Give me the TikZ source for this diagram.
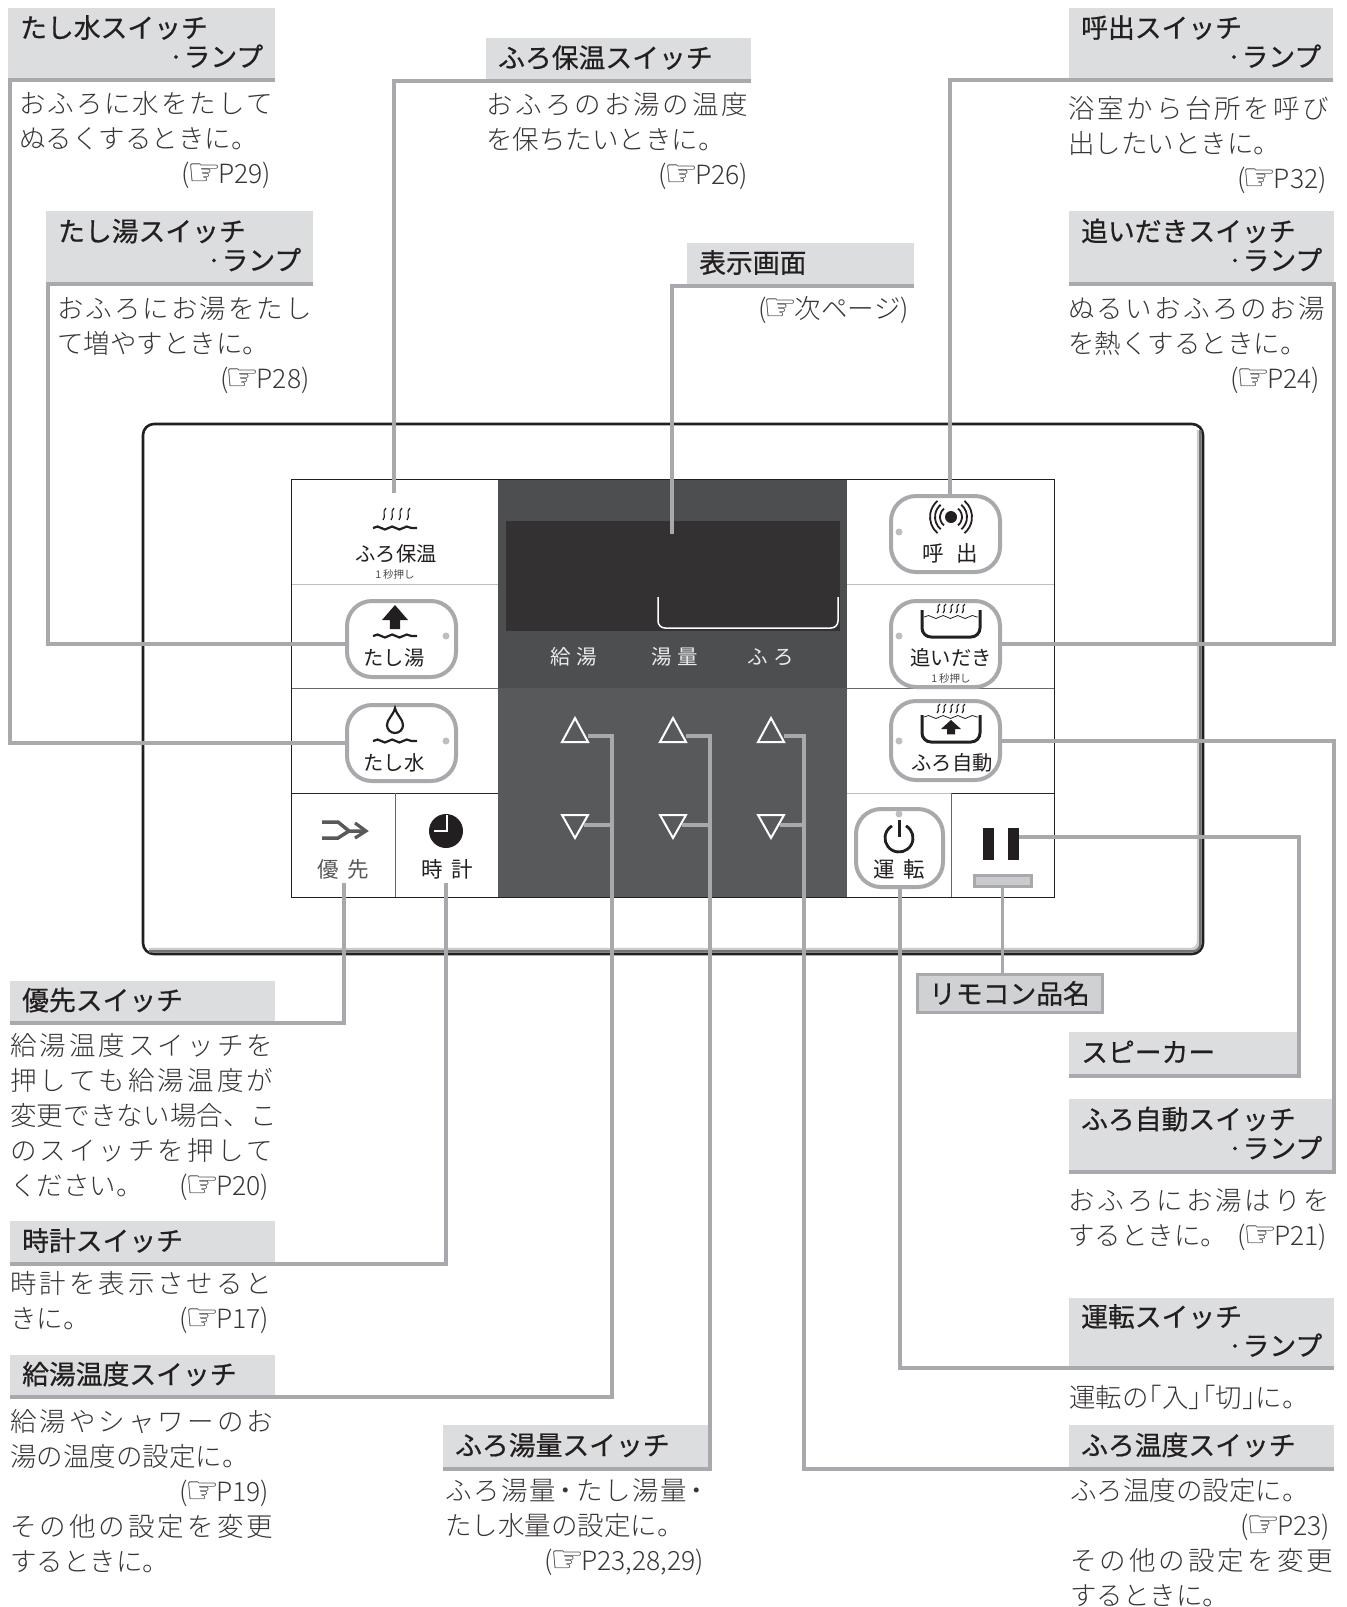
\documentclass[tikz,border=0pt]{standalone}
\usepackage{fontspec}
\setmainfont{Noto Sans CJK JP}
\newfontfamily\jpbody{Noto Sans CJK JP Light}
\newfontfamily\jphead[FakeBold=0.6]{Noto Sans CJK JP}
\newfontfamily\symfont{DejaVu Sans}
\usetikzlibrary{calc,positioning,decorations.pathmorphing}

\XeTeXlinebreaklocale "ja"
\XeTeXlinebreakskip=0pt plus 20pt\relax
\tolerance=9999
\hbadness=10000
\hfuzz=5pt

\definecolor{headgray}{HTML}{DCDDDE}
\definecolor{leadgray}{HTML}{A7A9AC}
\definecolor{darkup}{HTML}{4D4E50}
\definecolor{darklow}{HTML}{58595B}
\definecolor{screen}{HTML}{333132}
\definecolor{ink}{HTML}{231F20}
\definecolor{lampdot}{HTML}{BCBEC0}

\def\finger{\kern-3pt\smash{\raisebox{-2.5pt}{\symfont\fontsize{38pt}{38pt}\selectfont ☞}}\kern-3pt}
\def\fit#1{{\parfillskip=0pt #1\par}}
\def\rt#1{{\parfillskip=0pt\hfill #1\par}}
\def\hd#1{\raisebox{-8pt}[0pt][0pt]{#1}}
\def\wavy[#1](#2,#3)(#4){\draw[#1,decorate,decoration={snake,amplitude=1.5pt,segment length=14.6pt}] (#2,#3) -- ++(#4,0);}
\def\squiggle(#1,#2,#3){\draw[ink,line width=1.2pt] (#1+2,#2) .. controls (#1-2.5,#2+#3*0.3) and (#1+2.5,#2+#3*0.7) .. (#1-1,#2+#3);}
\def\tub(#1,#2,#3){\draw[ink,line width=3pt,rounded corners=9pt] (#1-29,#2) -- (#1-29,#3) -- (#1+29,#3) -- (#1+29,#2);}
\def\bigarrow(#1,#2,#3,#4){\fill[ink] (#1,#2) -- (#1+#3,#2+#4) -- (#1+#3*0.4,#2+#4) -- (#1+#3*0.4,#2+#4*1.6) -- (#1-#3*0.4,#2+#4*1.6) -- (#1-#3*0.4,#2+#4) -- (#1-#3,#2+#4) -- cycle;}

\tikzset{
	headone/.style={fill=headgray,anchor=north west,inner xsep=12pt,inner ysep=0pt,font=\jphead\fontsize{26.8pt}{29pt}\selectfont,text=ink},
	headtwo/.style={headone,minimum height=#1},
	bodytext/.style={anchor=base west,inner sep=0pt,font=\jpbody\fontsize{26.5pt}{35pt}\selectfont,text=ink!90,text width=#1},
	leader/.style={draw=leadgray,line width=4pt},
	btn/.style={rectangle,draw=leadgray,fill=white,line width=4pt,rounded corners=25pt,inner sep=0pt},
	keylabel/.style={inner sep=0pt,font=\fontsize{20.3pt}{21pt}\selectfont,text=ink},
	spacedlabel/.style={inner sep=0pt,font=\fontsize{21.5pt}{22pt}\selectfont,text=ink},
	smalllabel/.style={inner sep=0pt,font=\fontsize{10.5pt}{11pt}\selectfont,text=ink!80},
	darklabel/.style={inner sep=0pt,font=\fontsize{20.5pt}{21pt}\selectfont,text=white!92!black},
	lamp/.style={circle,fill=lampdot,minimum size=7pt,inner sep=0pt},
	grid/.style={line width=1pt},
}

\begin{document}
\begin{tikzpicture}[x=1pt,y=-1pt]
	\useasboundingbox (0,0) rectangle (1347,1607);
	\fill[white] (0,0) rectangle (1347,1607);

	% panel
	\draw[ink,line width=2.6pt,rounded corners=11pt,fill=white] (143,424) rectangle (1203,954);
	\draw[black!20,line width=2.5pt,rounded corners=7pt] (1198,430) -- (1198,949) -- (149,949);
	\draw[black!55,line width=2.5pt,rounded corners=8pt] (1200.4,430) -- (1200.4,951.4) -- (149,951.4);

	\fill[darkup] (498,479) rectangle (847,688);
	\fill[darklow] (498,688) rectangle (847,897);
	\fill[screen] (506,521) rectangle (840,631);
	\draw[white,line width=1.5pt,rounded corners=7pt] (658,597) -- (658,628) -- (838,628) -- (838,597);

	\draw[lampdot,grid] (291,584) -- (498,584) (847,584) -- (1054,584);
	\draw[black!60,grid] (291,688) -- (498,688) (847,688) -- (1054,688);
	\draw[black!85,grid] (291,793) -- (498,793);
	\draw[lampdot,grid] (847,793) -- (951,793);
	\draw[black!85,grid] (951,793) -- (1054,793);
	\draw[black!60,grid] (395,793) -- (395,897) (951,793) -- (951,897);
	\draw[ink,grid] (291,479) rectangle (1054,897);

	% headings
	\node[headtwo=72pt,minimum width=267pt,text width=243pt] (tashimizuhead) at (8,8) {\hd{たし水スイッチ}\par\rt{\hd{·ランプ}}};
	\node[headtwo=73pt,minimum width=267pt,text width=243pt] (tashiyuhead) at (46,211) {\hd{たし湯スイッチ}\par\rt{\hd{·ランプ}}};
	\node[headtwo=43pt,minimum width=265pt,text width=241pt] (hozonhead) at (486,38) {\hd{ふろ保温スイッチ}};
	\node[headtwo=43pt,minimum width=227pt,text width=203pt] (hyojihead) at (687,243) {\hd{表示画面}};
	\node[headtwo=72pt,minimum width=264pt,text width=240pt] (yobihead) at (1069,8) {\hd{呼出スイッチ}\par\rt{\hd{·ランプ}}};
	\node[headtwo=73pt,minimum width=265pt,text width=241pt] (oidakihead) at (1069,211) {\hd{追いだきスイッチ}\par\rt{\hd{·ランプ}}};
	\node[headtwo=42pt,minimum width=265pt,text width=241pt] (yusenhead) at (10,981) {\hd{優先スイッチ}};
	\node[headtwo=43pt,minimum width=265pt,text width=241pt] (tokeihead) at (10,1221) {\hd{時計スイッチ}};
	\node[headtwo=42pt,minimum width=265pt,text width=241pt] (kyutohead) at (10,1355) {\hd{給湯温度スイッチ}};
	\node[headtwo=44pt,minimum width=267pt,text width=243pt] (yuryohead) at (443,1425) {\hd{ふろ湯量スイッチ}};
	\node[headtwo=44pt,minimum width=265pt,text width=241pt] (ondohead) at (1069,1425) {\hd{ふろ温度スイッチ}};
	\node[headtwo=44pt,minimum width=230pt,text width=206pt] (speakerhead) at (1069,1032) {\hd{スピーカー}};
	\node[headtwo=73pt,minimum width=265pt,text width=241pt] (autohead) at (1069,1099) {\hd{ふろ自動スイッチ}\par\rt{\hd{·ランプ}}};
	\node[headtwo=70pt,minimum width=265pt,text width=241pt] (untenhead) at (1069,1298) {\hd{運転スイッチ}\par\rt{\hd{·ランプ}}};
	\node[draw=leadgray,fill=lampdot!70,line width=3pt,minimum width=185pt,minimum height=38pt,inner sep=0pt,font=\jphead\fontsize{26.8pt}{29pt}\selectfont,text=ink] (rimokon) at (1009.5,993.5) {リモコン品名};

	% body texts
	\node[bodytext=259pt] (tashimizubody) at (19,113) {\fit{おふろに水をたして}ぬるくするときに。\par\rt{(\finger P29)\hspace*{7pt}}};
	\node[bodytext=260pt] (tashiyubody) at (57,318) {\fit{おふろにお湯をたし}て増やすときに。\par\rt{(\finger P28)\hspace*{7.5pt}}};
	\node[bodytext=270pt] (hozonbody) at (486,114) {\fit{おふろのお湯の温度}を保ちたいときに。\par\rt{(\finger P26)\hspace*{8pt}}};
	\node[bodytext=213pt] (hyojibody) at (700,318) {\rt{(\finger 次ページ)\hspace*{4pt}}};
	\node[bodytext=268pt] (yobibody) at (1068,118) {\fit{浴室から台所を呼び}出したいときに。\par\rt{(\finger P32)\hspace*{9.5pt}}};
	\node[bodytext=263pt] (oidakibody) at (1068,318) {\fit{ぬるいおふろのお湯}を熱くするときに。\par\rt{(\finger P24)\hspace*{11pt}}};
	\node[bodytext=271pt] (yusenbody) at (10,1055) {\fit{給湯温度スイッチを}\fit{押しても給湯温度が}\fit{変更できない場合、こ\hspace*{4pt}}\fit{のスイッチを押して}\fit{ください。\hfill (\finger P20)\hspace*{12pt}}};
	\node[bodytext=270pt] (tokeibody) at (10,1293) {\fit{時計を表示させると}\fit{きに。\hfill (\finger P17)\hspace*{11pt}}};
	\node[bodytext=271pt] (kyutobody) at (10,1431) {\fit{給湯やシャワーのお}湯の温度の設定に。\par\rt{(\finger P19)\hspace*{12pt}}\fit{その他の設定を変更}するときに。\par};
	\node[bodytext=269pt] (yuryobody) at (445,1500) {\fit{ふろ湯量\kern-3pt・\kern-3pt たし湯量\kern-3pt・}たし水量の設定に。\par\rt{(\finger P23,28,29)\hspace*{10pt}}};
	\node[bodytext=270pt] (autobody) at (1068,1210) {\fit{おふろにお湯はりを}\fit{するときに。\hfill(\finger P21)\hspace*{11pt}}};
	\node[bodytext=264pt] (untenbody) at (1069,1407) {運転の\kern-13pt「入」\kern-26pt「切」\kern-13pt に。};
	\node[bodytext=271pt] (ondobody) at (1070,1500) {ふろ温度の設定に。\par\rt{(\finger P23)\hspace*{11pt}}\fit{その他の設定を変更}するときに。\par};

	% keys
	\node[btn,minimum width=109pt,minimum height=76pt] (tashiyubtn) at (401.5,639) {};
	\node[btn,minimum width=109pt,minimum height=76pt] (tashimizubtn) at (401.5,743) {};
	\node[btn,minimum width=109pt,minimum height=76pt] (yobibtn) at (945.5,534) {};
	\node[btn,minimum width=109pt,minimum height=86pt] (oidakibtn) at (945.5,644) {};
	\node[btn,minimum width=109pt,minimum height=79pt] (autobtn) at (945.5,740.5) {};
	\node[btn,minimum width=87pt,minimum height=78pt] (untenbtn) at (899.5,848) {};

	\node[lamp] (tashiyulamp) at (446,636) {};
	\node[lamp] (tashimizulamp) at (446,741) {};
	\node[lamp] (yobilamp) at (899,532) {};
	\node[lamp] (oidakilamp) at (899,636) {};
	\node[lamp] (autolamp) at (899,741) {};
	\node[lamp] (untenlamp) at (899,814) {};

	\node[keylabel] (hozonlabel) at (396,554) {ふろ保温};
	\node[smalllabel] (hozonsmall) at (395,574) {1\hspace{2pt}秒押し};
	\node[keylabel] (tashiyulabel) at (394,658) {たし湯};
	\node[keylabel] (tashimizulabel) at (394,763) {たし水};
	\node[spacedlabel,text=darklow] (yusenlabel) at (343,869) {優\hspace{8pt}先};
	\node[spacedlabel] (tokeilabel) at (447,869) {時\hspace{8pt}計};
	\node[spacedlabel] (yobilabel) at (950,553) {呼\hspace{13pt}出};
	\node[keylabel] (oidakilabel) at (951,658) {追いだき};
	\node[smalllabel] (oidakismall) at (951,678) {1\hspace{2pt}秒押し};
	\node[keylabel] (autolabel) at (952,763) {ふろ自動};
	\node[spacedlabel] (untenlabel) at (899,869) {運\hspace{8pt}転};
	\node[darklabel] (kyutolabel) at (574,657) {給\hspace{6pt}湯};
	\node[darklabel] (yuryolabel) at (675,657) {湯\hspace{6pt}量};
	\node[darklabel] (ondolabel) at (771,657) {ふ\hspace{6pt}ろ};

	% icons
	\foreach \x in {384,392,400,408} {\squiggle(\x,508,12)}
	\wavy[ink,line width=2.2pt](373,528)(44)
	\bigarrow(395,605,13,15)
	\wavy[ink,line width=2.2pt](373,636)(44)
	\draw[ink,line width=2.2pt] (395,708) .. controls (397,716) and (403,719) .. (403,725) arc (0:180:8) .. controls (387,719) and (393,716) .. (395,708) -- cycle;
	\wavy[ink,line width=2.2pt](373,741)(44)

	\draw[darklow,line width=3.5pt] (322,822) -- (338,822) -- (349,831) -- (364,831) (322,838) -- (338,838) -- (349,831);
	\draw[darklow,line width=3.2pt] (355,823) -- (366,831) -- (355,838);
	\node[circle,fill=ink,minimum size=34pt,inner sep=0pt] (clockface) at (446,831) {};
	\draw[white,line width=2.4pt] (clockface.center) ++(1,-16) -- ++(0,16) -- ++(-13,0);

	\node[circle,fill=ink,minimum size=12pt,inner sep=0pt] (yobiicon) at (951,517) {};
	\foreach \r in {11,16,21} {
		\draw[ink,line width=1.8pt] ([shift={(-50:\r)}]951,517) arc (-50:50:\r);
		\draw[ink,line width=1.8pt] ([shift={(130:\r)}]951,517) arc (130:230:\r);
	}

	\foreach \x in {938,944,951,957,963} {\squiggle(\x,604,9)}
	\tub(951,610,637)
	\wavy[ink,line width=0.8pt](924,617)(54)
	\foreach \x in {938,944,951,957,963} {\squiggle(\x,704,9)}
	\tub(951,715,742)
	\wavy[ink,line width=0.8pt](924,717)(54)
	\bigarrow(951,720,10,9)

	\draw[ink,line width=2.8pt] ([shift={(-60:14)}]899,838) arc (-60:240:14);
	\draw[ink,line width=3pt] (899,820) -- (899,837);

	\node[fill=ink,minimum width=11pt,minimum height=32pt,inner sep=0pt] (spkleft) at (988.5,844) {};
	\node[fill=ink,minimum width=11pt,minimum height=32pt,inner sep=0pt] (spkright) at (1013.5,844) {};
	\node[draw=leadgray,fill=lampdot!80,line width=3pt,minimum width=57pt,minimum height=11pt,inner sep=0pt] (rimosmall) at (1002.5,880.5) {};

	% up and down keys
	\foreach \name/\x in {kyuto/575,yuryo/673,ondo/771} {
		\draw[white,line width=2pt] (\x,718) -- ++(13,24) -- ++(-26,0) -- cycle;
		\draw[white,line width=2pt] (\x,838) -- ++(13,-23) -- ++(-26,0) -- cycle;
		\coordinate (\name-up) at (\x+13,736);
		\coordinate (\name-down) at (\x+9,825);
	}
	\coordinate (kyutotop) at (612,736);
	\coordinate (yuryotop) at (710,736);
	\coordinate (ondotop) at (804,736);

	% leader lines
	\coordinate (hozonend) at (394,493);
	\coordinate (hyojiend) at (672,534);
	\coordinate (yusenend) at (344,883);
	\coordinate (tokeiend) at (446,883);
	\draw[leader] (tashimizuhead.south east) -- ([xshift=2pt]tashimizuhead.south west) |- (tashimizubtn.west);
	\draw[leader] (tashiyuhead.south east) -- ([xshift=2pt]tashiyuhead.south west) |- ([yshift=-5pt]tashiyubtn.west);
	\draw[leader] (hozonhead.south east) -| (hozonend);
	\draw[leader] (hyojihead.south east) -| (hyojiend);
	\draw[leader] (yobihead.south east) -| ([xshift=4.5pt]yobibtn.north);
	\draw[leader] (oidakihead.south west) -- (oidakihead.south east) |- (oidakibtn.east);
	\draw[leader] (yusenhead.south west) -| (yusenend);
	\draw[leader] (tokeihead.south west) -| (tokeiend);
	\draw[leader] (kyutohead.south west) -| (kyutotop) -- (kyuto-up);
	\draw[leader] (kyuto-down) -- (kyuto-down -| kyutotop);
	\draw[leader] (yuryohead.south west) -| (yuryotop) -- (yuryo-up);
	\draw[leader] (yuryo-down) -- (yuryo-down -| yuryotop);
	\draw[leader] (ondohead.south east) -| (ondotop) -- (ondo-up);
	\draw[leader] (ondo-down) -- (ondo-down -| ondotop);
	\draw[leader] ([yshift=7pt]spkright.east) -| (speakerhead.south east) -- (speakerhead.south west);
	\draw[leader] (autohead.south west) -- (autohead.south east) |- (autobtn.east);
	\draw[leader] (untenbtn.south) |- (untenhead.south east);
	\draw[leader,line width=3pt] (rimosmall.south) -- (rimosmall.south |- rimokon.north);
\end{tikzpicture}
\end{document}
